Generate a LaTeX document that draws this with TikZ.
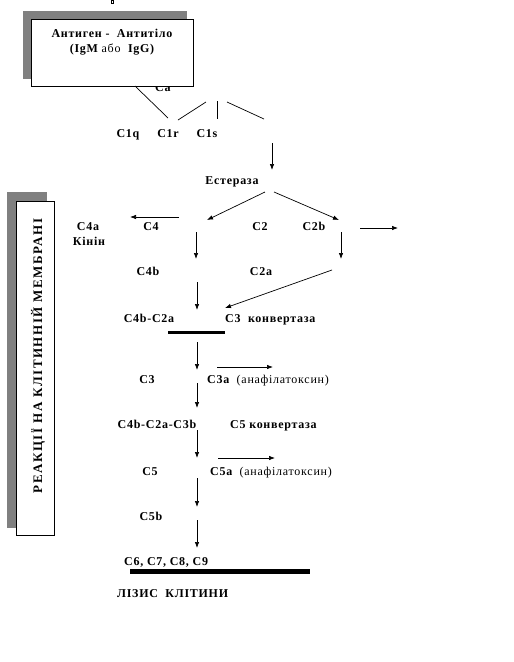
\documentclass[tikz,border=0pt]{standalone}
\usepackage{fontspec}
\setmainfont{Liberation Serif}[LetterSpace=6]
\usetikzlibrary{arrows.meta,calc}
\definecolor{ShadowClr}{gray}{0.5}

\begin{document}
\begin{tikzpicture}[x=1pt,y=-1pt,
  lbl/.style={font=\fontsize{12}{14}\selectfont\bfseries,inner sep=0pt},
  arr/.style={line width=0.7pt,-{Latex[length=6pt,width=4.5pt]}},
  ln/.style={line width=0.7pt},
  bar/.style={line width=#1,line cap=butt}]
\useasboundingbox[fill=white] (0,0) rectangle (514,662);

% points of the lines and arrows
\foreach \n/\x/\y in {p1/135/86,p2/168/118,p3/178/120,p4/206/102,p5/217/101,p6/217/119,
  p7/227/102,p8/264/119,e1/272/143,e2/272/170,e3/265/192,e4/207/220,e5/274/192,e6/339/220,
  e7/179/217,e8/130/217,e9/360/228,e10/398/228,e11/196/232,e12/196/259,e13/341/232,
  e14/341/259,e15/332/270,e16/225/308,e17/197/282,e18/197/310,e19/197/342,e20/197/370,
  e21/217/367,e22/273/367,e23/197/383,e24/197/408,e25/197/430,e26/197/458,e27/218/458,
  e28/275/458,e29/197/478,e30/197/507,e31/197/520,e32/197/548,
  b1/168/332,b2/225/332,b3/130/571,b4/310/571}
  \coordinate (\n) at (\x,\y);

\draw[ln] (111,0.5) rectangle (113.5,3.5);

% antigen box
\node[lbl,anchor=base west] (ca) at (155,91) {Ca\textsuperscript{++}};
\fill[ShadowClr] (23,11) rectangle (187,79);
\node[draw,ln,fill=white,minimum width=162pt,minimum height=67pt,anchor=north west,inner sep=0pt] (antab) at (31,19) {};
\node[lbl,anchor=base] (antig) at (112,37) {Антиген - \ Антитіло};
\node[lbl,anchor=base] (igm) at (112,52) {(IgM \mdseries або\bfseries\ \ IgG)};

% membrane box
\fill[ShadowClr] (7,192) rectangle (47,528);
\node[draw,ln,fill=white,minimum width=38pt,minimum height=334pt,anchor=north west,inner sep=0pt] (membr) at (16,201) {};
\node[lbl,font=\fontsize{13}{15}\selectfont\bfseries\addfontfeature{LetterSpace=12},anchor=base,rotate=90] (membrtxt) at (42,356) {РЕАКЦІЇ НА КЛІТИННІЙ МЕМБРАНІ};

\draw[ln] (p1) -- (p2);
\draw[ln] (p3) -- (p4);
\draw[ln] (p5) -- (p6);
\draw[ln] (p7) -- (p8);

\node[lbl,anchor=base] (c1q) at (128,137) {C1q};
\node[lbl,anchor=base] (c1r) at (168,137) {C1r};
\node[lbl,anchor=base] (c1s) at (207,137) {C1s};
\node[lbl,anchor=base] (est) at (232,184) {Естераза};
\node[lbl,anchor=base] (c4a) at (88,230) {C4a};
\node[lbl,anchor=base] (kinin) at (89,245) {Кінін};
\node[lbl,anchor=base] (c4) at (151,230) {C4};
\node[lbl,anchor=base] (c2) at (260,230) {C2};
\node[lbl,anchor=base] (c2b) at (314,230) {C2b};
\node[lbl,anchor=base] (c4b) at (148,275) {C4b};
\node[lbl,anchor=base] (c2a) at (261,275) {C2a};
\node[lbl,anchor=base] (c4bc2a) at (149,322) {C4b-C2a};
\node[lbl,anchor=base west] (c3konv) at (225,322) {C3 \ конвертаза};
\node[lbl,anchor=base] (c3) at (147,383) {C3};
\node[lbl,anchor=base west] (c3a) at (207,383) {C3a \ \mdseries(анафілатоксин)};
\node[lbl,anchor=base] (c4bc2ac3b) at (157,428) {C4b-C2a-C3b};
\node[lbl,anchor=base west] (c5konv) at (230,428) {C5 конвертаза};
\node[lbl,anchor=base] (c5) at (150,475) {C5};
\node[lbl,anchor=base west] (c5a) at (210,475) {C5a \ \mdseries(анафілатоксин)};
\node[lbl,anchor=base] (c5b) at (151,520) {C5b};
\node[lbl,anchor=base west] (c6789) at (124,565) {C6, C7, C8, C9};
\node[lbl,anchor=base west] (lysis) at (117,597) {ЛІЗИС \ КЛІТИНИ};

\foreach \s/\t in {e1/e2,e3/e4,e5/e6,e7/e8,e9/e10,e11/e12,e13/e14,e15/e16,e17/e18,
  e19/e20,e21/e22,e23/e24,e25/e26,e27/e28,e29/e30,e31/e32}
  \draw[arr] (\s) -- (\t);

\draw[bar=3pt] (b1) -- (b2);
\draw[bar=5pt] (b3) -- (b4);

\end{tikzpicture}
\end{document}
